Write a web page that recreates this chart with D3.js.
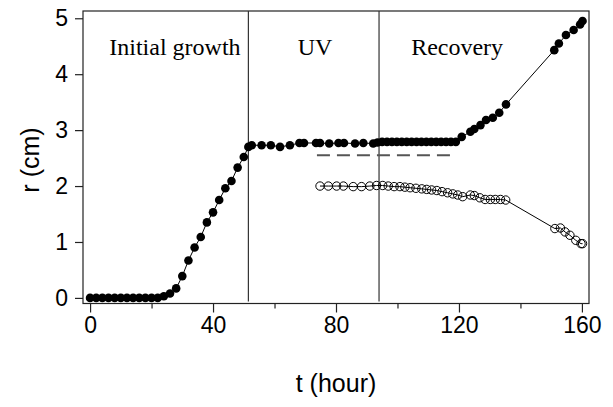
<!DOCTYPE html>
<html>
<head>
<meta charset="utf-8">
<script src="https://cdn.jsdelivr.net/npm/d3@7"></script>
<style>
  body { margin: 0; background: #fff; }
  .tick text { font-family: "Liberation Sans", Arial, sans-serif; }
</style>
</head>
<body>
<svg id="chart" width="613" height="407"></svg>
<script>
// growth curve: filled circles, r (cm) vs t (hour)
var grownT = [0, 2, 4, 6, 8, 10, 12, 14, 16, 18, 20, 22, 24, 26, 28, 30, 32, 34, 36, 38, 40, 42, 44, 46, 48, 50,
    51.5, 52.6, 55.8, 58.8, 61.8, 65, 68.1, 69.6, 73.5, 74.8, 77.8, 80.8, 82.6, 86.2, 88.9, 92.1, 93.5,
    95, 96.6, 98.2, 99.8, 101.4, 103, 104.6, 106.2, 107.8, 109.4, 111, 112.6, 114.2, 115.8, 117.4, 119,
    120.9, 123.7, 125, 127, 128.8, 131, 133.1, 135.3, 151, 152.5, 154.8, 157.3, 159.4, 160.2];
var grownR = [0, 0, 0, 0, 0, 0, 0, 0, 0, 0, 0, 0, 0.03, 0.08, 0.17, 0.39, 0.67, 0.90, 1.09, 1.35, 1.53, 1.75, 1.96, 2.09, 2.33, 2.52,
    2.70, 2.73, 2.73, 2.73, 2.70, 2.73, 2.77, 2.77, 2.77, 2.77, 2.76, 2.77, 2.77, 2.76, 2.77, 2.76, 2.78,
    2.79, 2.79, 2.79, 2.79, 2.79, 2.79, 2.79, 2.79, 2.79, 2.79, 2.79, 2.79, 2.79, 2.79, 2.79, 2.79,
    2.88, 2.97, 3.02, 3.09, 3.18, 3.22, 3.31, 3.46, 4.43, 4.55, 4.70, 4.79, 4.89, 4.95];

// open circles
var openT = [74.8, 77.5, 80.2, 82.4, 85.6, 88.3, 91, 93.2, 95.2, 97, 98.9, 100.8, 102.4, 104.1, 106, 107.9, 109.5, 111.1,
    112.8, 114.5, 116.3, 118, 119.6, 121.2, 123.7, 125, 126.8, 128.5, 130.2, 131.8, 133.5, 135.2,
    151.2, 153, 154.5, 156.1, 158, 159.7, 160.2];
var openR = [2.00, 2.00, 2.00, 2.00, 1.99, 1.99, 2.00, 2.01, 2.01, 2.00, 1.99, 1.99, 1.98, 1.97, 1.96, 1.95, 1.94, 1.93,
    1.92, 1.90, 1.88, 1.86, 1.84, 1.81, 1.84, 1.83, 1.79, 1.76, 1.76, 1.76, 1.76, 1.75,
    1.24, 1.25, 1.18, 1.12, 1.03, 0.97, 0.97];

var phaseBounds = [51.5, 94];
var phaseLabels = ["Initial growth", "UV", "Recovery"];
var phaseLabelT = [27.6, 73.2, 119.4];
var phaseLabelR = 4.34;

var dashT = [73.8, 117.4];
var dashR = 2.55;

var xMajor = [0, 40, 80, 120, 160];
var xMinor = [20, 60, 100, 140];
var yTicks = [0, 1, 2, 3, 4, 5];

function init() {
    var svg = d3.select("#chart");

    var left = 83, right = 589, top = 11, bottom = 303.5;

    var xScale = d3.scaleLinear()
        .domain([-2.3, 162.3])
        .range([left, right]);

    var yScale = d3.scaleLinear()
        .domain([-0.1, 5.13])
        .range([bottom, top]);

    var sans = "'Liberation Sans', Arial, Helvetica, sans-serif";
    var serif = "'Liberation Serif', 'Times New Roman', Times, serif";

    // frame
    svg.append("rect")
        .attr("x", left)
        .attr("y", top)
        .attr("width", right - left)
        .attr("height", bottom - top)
        .attr("fill", "none")
        .attr("stroke", "#222")
        .attr("stroke-width", 1.2);

    // x axis, major + minor
    var xAxis = d3.axisBottom(xScale)
        .tickValues(xMajor)
        .tickSize(9)
        .tickSizeOuter(0)
        .tickPadding(4)
        .tickFormat(d3.format("d"));

    var gx = svg.append("g")
        .attr("transform", "translate(0," + bottom + ")")
        .call(xAxis);
    gx.select(".domain").remove();

    var gxm = svg.append("g")
        .attr("transform", "translate(0," + bottom + ")")
        .call(d3.axisBottom(xScale).tickValues(xMinor).tickSize(5).tickSizeOuter(0).tickFormat(""));
    gxm.select(".domain").remove();

    // y axis
    var yAxis = d3.axisLeft(yScale)
        .tickValues(yTicks)
        .tickSize(8)
        .tickSizeOuter(0)
        .tickPadding(7)
        .tickFormat(d3.format("d"));

    var gy = svg.append("g")
        .attr("transform", "translate(" + left + ",0)")
        .call(yAxis);
    gy.select(".domain").remove();

    svg.selectAll(".tick line").attr("stroke", "#222").attr("stroke-width", 1.2);
    svg.selectAll(".tick text")
        .attr("fill", "#000")
        .style("font-size", "23px");

    // axis titles
    svg.append("text")
        .attr("x", (left + right) / 2)
        .attr("y", 392)
        .attr("text-anchor", "middle")
        .style("font-family", sans)
        .style("font-size", "25px")
        .text("t (hour)");

    svg.append("text")
        .attr("transform", "translate(39," + 160 + ") rotate(-90)")
        .attr("text-anchor", "middle")
        .style("font-family", sans)
        .style("font-size", "25px")
        .text("r (cm)");

    // phase boundaries
    svg.selectAll(".phase")
        .data(phaseBounds)
        .enter()
        .append("line")
        .attr("class", "phase")
        .attr("x1", function (d) { return xScale(d); })
        .attr("x2", function (d) { return xScale(d); })
        .attr("y1", top)
        .attr("y2", bottom - 2)
        .attr("stroke", "#333")
        .attr("stroke-width", 1.2);

    svg.selectAll(".phaselabel")
        .data(phaseLabels)
        .enter()
        .append("text")
        .attr("class", "phaselabel")
        .attr("x", function (d, i) { return xScale(phaseLabelT[i]); })
        .attr("y", yScale(phaseLabelR))
        .attr("text-anchor", "middle")
        .style("font-family", serif)
        .style("font-size", "24px")
        .text(function (d) { return d; });

    // dashed reference
    svg.append("line")
        .attr("x1", xScale(dashT[0]))
        .attr("x2", xScale(dashT[1]))
        .attr("y1", yScale(dashR))
        .attr("y2", yScale(dashR))
        .attr("stroke", "#555")
        .attr("stroke-width", 2)
        .attr("stroke-dasharray", "13,7");

    var line = d3.line()
        .x(function (d) { return xScale(d[0]); })
        .y(function (d) { return yScale(d[1]); });

    var grown = grownT.map(function (t, i) { return [t, grownR[i]]; });
    var open = openT.map(function (t, i) { return [t, openR[i]]; });

    svg.append("path")
        .datum(grown)
        .attr("d", line)
        .attr("fill", "none")
        .attr("stroke", "#000")
        .attr("stroke-width", 1);

    svg.append("path")
        .datum(open)
        .attr("d", line)
        .attr("fill", "none")
        .attr("stroke", "#000")
        .attr("stroke-width", 1);

    svg.selectAll(".filled")
        .data(grown)
        .enter()
        .append("circle")
        .attr("class", "filled")
        .attr("cx", function (d) { return xScale(d[0]); })
        .attr("cy", function (d) { return yScale(d[1]); })
        .attr("r", 4.3)
        .attr("fill", "#000");

    svg.selectAll(".hollow")
        .data(open)
        .enter()
        .append("circle")
        .attr("class", "hollow")
        .attr("cx", function (d) { return xScale(d[0]); })
        .attr("cy", function (d) { return yScale(d[1]); })
        .attr("r", 4.2)
        .attr("fill", "none")
        .attr("stroke", "#000")
        .attr("stroke-width", 1);
}
window.onload = init;
</script>
</body>
</html>
